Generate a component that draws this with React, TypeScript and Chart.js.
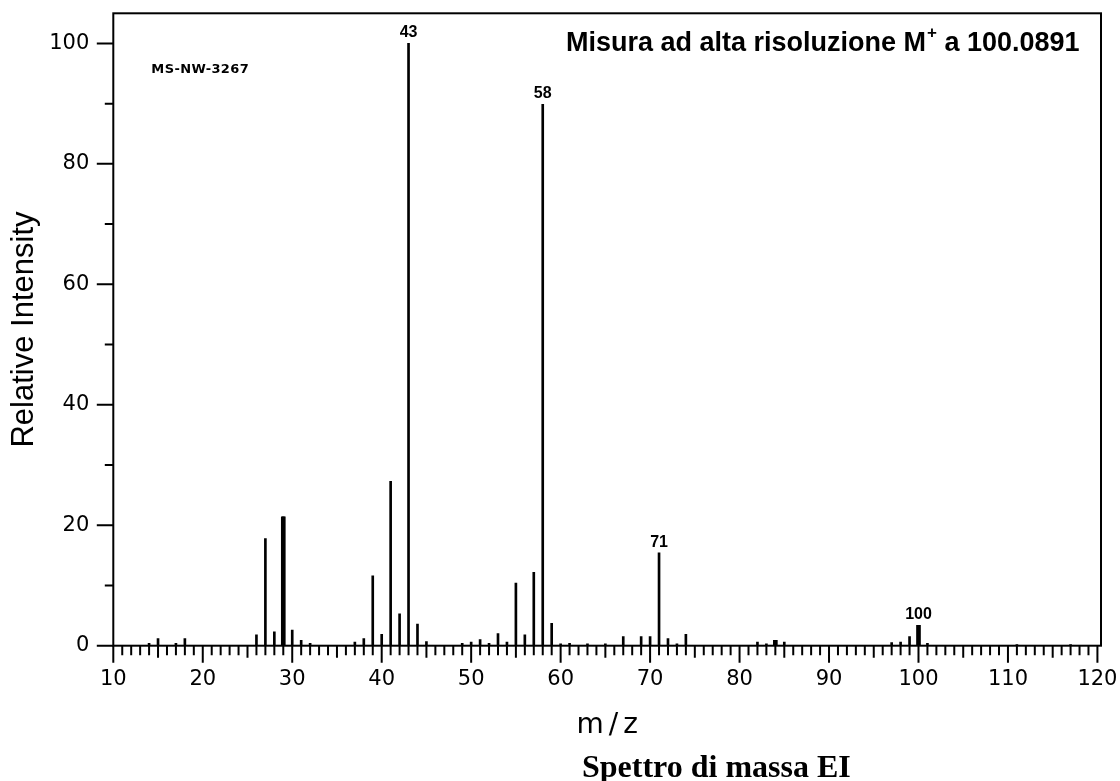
import React, { useEffect, useRef } from 'react';
import { Chart, registerables } from 'chart.js';

Chart.register(...registerables);

// m/z values of the peaks and their relative intensities (%)
const mzValues = [14, 15, 17, 18, 26, 27, 28, 29, 30, 31, 32, 37, 38, 39, 40, 41, 42, 43, 44, 45, 49, 50, 51, 52, 53, 54, 55, 56, 57, 58, 59, 60, 61, 63, 65, 67, 69, 70, 71, 72, 73, 74, 82, 83, 84, 85, 97, 98, 99, 100, 101, 111, 117];
const intensities = [0.4, 1.2, 0.4, 1.2, 1.8, 17.8, 2.3, 21.4, 2.6, 0.9, 0.4, 0.6, 1.2, 11.6, 1.9, 27.3, 5.3, 100, 3.6, 0.7, 0.4, 0.6, 1.0, 0.4, 2.0, 0.6, 10.4, 1.8, 12.2, 89.9, 3.7, 0.3, 0.4, 0.3, 0.3, 1.5, 1.5, 1.5, 15.4, 1.2, 0.3, 1.9, 0.6, 0.3, 0.9, 0.6, 0.5, 0.6, 1.5, 3.4, 0.4, 0.2, 0.2];

// peaks that carry an m/z label, and peaks drawn as broader lines
const labeledPeaks = [43, 58, 71, 100];
const broadPeaks = [29, 84, 100];

// axis ticks
const xTicks = [10, 20, 30, 40, 50, 60, 70, 80, 90, 100, 110, 120];
const yTicks = [0, 20, 40, 60, 80, 100];

const sampleCode = 'MS-NW-3267';
const noteMain = 'Misura ad alta risoluzione M';
const noteSup = '+';
const noteTail = ' a 100.0891';
const xTitle = 'm/z';
const yTitle = 'Relative Intensity';
const caption = 'Spettro di massa EI';

const intensityOf = (m: number) => intensities[mzValues.indexOf(m)];

const spectrumPlugin = {
  id: 'spectrumDecor',
  afterDatasetsDraw(chart: any) {
    const { ctx, chartArea: a, scales } = chart;
    const x = scales.x;
    const y = scales.y;
    ctx.save();
    ctx.strokeStyle = '#000';
    ctx.fillStyle = '#000';
    ctx.lineWidth = 2;
    ctx.lineCap = 'butt';
    // frame
    ctx.strokeRect(a.left, a.top, a.right - a.left, a.bottom - a.top);
    // x tick marks (every unit, medium at 5, long at 10)
    ctx.beginPath();
    for (let m = 10; m <= 120; m++) {
      const px = x.getPixelForValue(m);
      const len = m % 10 === 0 ? 17 : m % 5 === 0 ? 12 : 9.5;
      ctx.moveTo(px, a.bottom);
      ctx.lineTo(px, a.bottom + len);
    }
    // y tick marks
    for (let v = 0; v <= 100; v += 10) {
      const py = y.getPixelForValue(v);
      const len = v % 20 === 0 ? 16.5 : 8.5;
      ctx.moveTo(a.left - len, py);
      ctx.lineTo(a.left, py);
    }
    ctx.stroke();

    // peak labels
    ctx.font = 'bold 16px "Liberation Sans"';
    ctx.textAlign = 'center';
    ctx.textBaseline = 'alphabetic';
    labeledPeaks.forEach((m) => {
      ctx.fillText(String(m), x.getPixelForValue(m), y.getPixelForValue(intensityOf(m)) - 6);
    });

    // sample code
    ctx.textAlign = 'left';
    ctx.font = 'bold 13px "DejaVu Sans"';
    (ctx as any).letterSpacing = '0.4px';
    ctx.fillText(sampleCode, a.left + 38, a.top + 60);
    (ctx as any).letterSpacing = '0px';

    // high resolution note
    ctx.font = 'bold 27px "Liberation Sans"';
    const nx = 566;
    const ny = a.top + 38;
    ctx.fillText(noteMain, nx, ny);
    const w1 = ctx.measureText(noteMain).width;
    ctx.font = 'bold 17px "Liberation Sans"';
    ctx.fillText(noteSup, nx + w1 + 1, ny - 13);
    const w2 = ctx.measureText(noteSup).width;
    ctx.font = 'bold 27px "Liberation Sans"';
    ctx.fillText(noteTail, nx + w1 + w2 + 1, ny);

    // x axis title
    ctx.font = '28px "DejaVu Sans"';
    (ctx as any).letterSpacing = '5px';
    const tw = ctx.measureText(xTitle).width - 5;
    ctx.fillText(xTitle, (a.left + a.right) / 2 - tw / 2, 733);
    (ctx as any).letterSpacing = '0px';
    ctx.restore();
  },
};

export default function App() {
  const canvasRef = useRef<HTMLCanvasElement | null>(null);

  useEffect(() => {
    const canvas = canvasRef.current;
    if (!canvas) return;
    const narrow = mzValues.map((m, i) => ({ x: m, y: intensities[i] }));
    const broad = broadPeaks.map((m) => ({ x: m, y: intensityOf(m) }));
    const chart = new Chart(canvas, {
      type: 'bar',
      data: {
        datasets: [
          {
            label: 'Intensità relativa',
            data: narrow,
            backgroundColor: '#000',
            borderWidth: 0,
            barThickness: 2,
            grouped: false,
          } as any,
          {
            label: 'Picchi larghi',
            data: broad,
            backgroundColor: '#000',
            borderWidth: 0,
            barThickness: 4,
            grouped: false,
          } as any,
        ],
      },
      options: {
        responsive: false,
        maintainAspectRatio: false,
        animation: false,
        devicePixelRatio: 1,
        layout: { padding: { top: 13.3, right: 19, left: 0, bottom: 0 } },
        plugins: {
          legend: { display: false },
          tooltip: { enabled: false },
          title: { display: false },
        },
        scales: {
          x: {
            type: 'linear',
            min: 10,
            max: 120.4,
            offset: false,
            grid: { display: false, drawTicks: false },
            border: { display: false },
            afterBuildTicks: (s: any) => {
              s.ticks = xTicks.map((v) => ({ value: v }));
            },
            afterFit: (s: any) => {
              s.height = 135.3;
              s.paddingLeft = 0;
              s.paddingRight = 0;
            },
            ticks: {
              autoSkip: false,
              maxRotation: 0,
              minRotation: 0,
              padding: 21,
              color: '#000',
              font: { family: '"DejaVu Sans"', size: 21 },
            },
          },
          y: {
            type: 'linear',
            min: 0,
            max: 105,
            grid: { display: false, drawTicks: false },
            border: { display: false },
            afterBuildTicks: (s: any) => {
              s.ticks = yTicks.map((v) => ({ value: v }));
            },
            afterFit: (s: any) => {
              s.width = 113.3;
              s.paddingTop = 0;
              s.paddingBottom = 0;
            },
            ticks: {
              padding: 24,
              color: '#000',
              font: { family: '"DejaVu Sans"', size: 21 },
            },
            title: {
              display: true,
              text: yTitle,
              color: '#000',
              font: { family: '"Liberation Sans"', size: 31 },
              padding: { top: 6, bottom: 0 },
            },
          },
        },
      },
      plugins: [spectrumPlugin],
    } as any);
    return () => chart.destroy();
  }, []);

  return (
    <div style={{ position: 'absolute', left: 0, top: 0, width: 1120, height: 781, overflow: 'hidden', background: '#fff' }}>
      <canvas ref={canvasRef} width={1120} height={781} style={{ display: 'block' }} />
      <div
        style={{
          position: 'absolute',
          left: 582,
          top: 750,
          font: 'bold 32px "Liberation Serif"',
          lineHeight: '32px',
          whiteSpace: 'nowrap',
          color: '#000',
        }}
      >
        {caption}
      </div>
    </div>
  );
}
